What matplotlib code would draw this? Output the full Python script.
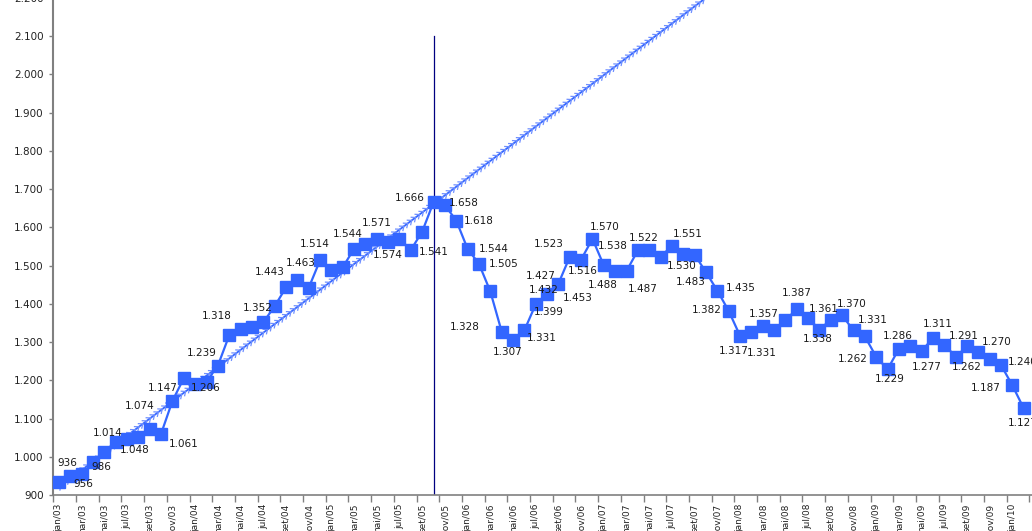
import numpy as np
import matplotlib
matplotlib.use('Agg')
import matplotlib.pyplot as plt
import matplotlib.patheffects as pe

# monthly series, jan/03 .. fev/10
month_names = ['jan', 'fev', 'mar', 'abr', 'mai', 'jun',
               'jul', 'ago', 'set', 'out', 'nov', 'dez']
years = [3, 4, 5, 6, 7, 8, 9, 10]

values = [936, 950, 956, 986, 1014, 1040, 1048, 1052, 1074, 1061, 1147, 1206,   # 2003
          1191, 1197, 1239, 1318, 1335, 1340, 1352, 1394, 1443, 1463, 1442, 1514,  # 2004
          1488, 1496, 1544, 1556, 1571, 1563, 1570, 1541, 1589, 1666, 1658, 1618,  # 2005
          1544, 1505, 1433, 1328, 1307, 1331, 1399, 1427, 1453, 1523, 1516, 1570,  # 2006
          1501, 1486, 1486, 1540, 1540, 1524, 1551, 1530, 1529, 1483, 1435, 1382,  # 2007
          1317, 1326, 1342, 1331, 1357, 1387, 1363, 1333, 1359, 1370, 1331, 1315,  # 2008
          1262, 1229, 1283, 1289, 1277, 1311, 1294, 1262, 1289, 1274, 1257, 1240,  # 2009
          1187, 1127]                                                              # 2010

# linear trend of the 2003-2005 rise
trend_months = [0, 57]
trend_values = [921, 2200]

marker_month = 33  # out/05

# data labels: (month index, text)
labels = [(0, '936'), (2, '956'), (3, '986'), (4, '1.014'), (6, '1.048'),
          (8, '1.074'), (9, '1.061'), (10, '1.147'), (11, '1.206'), (14, '1.239'),
          (15, '1.318'), (18, '1.352'), (20, '1.443'), (21, '1.463'), (23, '1.514'),
          (26, '1.544'), (28, '1.571'), (29, '1.574'), (31, '1.541'), (33, '1.666'),
          (34, '1.658'), (35, '1.618'), (36, '1.544'), (37, '1.505'), (39, '1.328'),
          (40, '1.307'), (41, '1.331'), (42, '1.399'), (43, '1.427'), (43, '1.432'),
          (44, '1.453'), (45, '1.523'), (46, '1.516'), (47, '1.570'), (48, '1.538'),
          (48, '1.488'), (50, '1.487'), (51, '1.522'), (54, '1.551'), (55, '1.530'),
          (57, '1.483'), (58, '1.435'), (59, '1.382'), (60, '1.317'), (61, '1.331'),
          (62, '1.357'), (65, '1.387'), (68, '1.361'), (67, '1.338'), (69, '1.370'),
          (70, '1.331'), (72, '1.262'), (73, '1.229'), (74, '1.286'), (76, '1.277'),
          (77, '1.311'), (80, '1.291'), (79, '1.262'), (82, '1.270'), (83, '1.240'),
          (84, '1.187'), (85, '1.127')]

# where each label sits relative to its point (pixels, right / down)
label_offsets = [(8, -19), (2, 10), (8, 5), (3, -19), (8, 11),
                 (-10, -23), (23, 10), (-10, -13), (22, 10), (-16, -13),
                 (-12, -19), (-6, -14), (-16, -15), (3, -17), (-5, -16),
                 (-6, -15), (0, -16), (0, 13), (23, 2), (-24, -4),
                 (19, -2), (23, 0), (26, 0), (25, 0), (-37, -5),
                 (-5, 12), (17, 8), (13, 8), (-6, -18), (-3, -4),
                 (19, 14), (-21, -13), (2, 11), (12, -12), (9, -19),
                 (-1, 20), (16, 18), (6, -12), (16, -12), (-2, 12),
                 (-15, 10), (23, -3), (-22, -1), (-6, 15), (10, 21),
                 (1, -12), (0, -16), (-7, -11), (-2, 9), (10, -11),
                 (19, -10), (-23, 2), (2, 10), (-1, -13), (5, 16),
                 (5, -14), (-3, -10), (11, 10), (7, -17), (22, -3),
                 (-27, 3), (-1, 15)]

blue = '#3366ff'
W, H = 1032, 531

fig = plt.figure(figsize=(W / 100, H / 100), dpi=100)
ax = fig.add_axes([53.3 / W, 35.7 / H, 987.5 / W, 497.5 / H])

x = np.arange(len(values))

# trend line, drawn with a chevron texture
ax.plot(trend_months, trend_values, color=blue, lw=1.3, zorder=2,
        path_effects=[pe.Stroke(linewidth=1.3, foreground=blue),
                      pe.TickedStroke(spacing=3.5, angle=-140, length=0.9,
                                      linewidth=0.9, foreground='#6f8fff'),
                      pe.TickedStroke(spacing=3.5, angle=140, length=0.9,
                                      linewidth=0.9, foreground='#6f8fff')])

ax.plot([marker_month, marker_month], [900, 2100], color='#000080', lw=0.9, zorder=2)

ax.plot(x, values, color=blue, lw=1.6, marker='s', ms=8, mec=blue,
        zorder=3, clip_on=False)

for (i, txt), (dx, dy) in zip(labels, label_offsets):
    ax.annotate(txt, (i, values[i]), xytext=(dx, -dy), textcoords='offset pixels',
                ha='center', va='center', fontsize=7.5, color='#1a1a1a',
                annotation_clip=False, zorder=4)

ax.set_xlim(-0.5, 86.5)
ax.set_ylim(900, 2200)

yt = np.arange(900, 2201, 100)
ax.set_yticks(yt, [f'{v:,}'.replace(',', '.') for v in yt])
ax.tick_params(axis='y', length=3, width=1, color='#808080', labelsize=7.5,
               labelcolor='#222222', pad=4)

tick_labels = [f'{month_names[i % 12]}/{years[i // 12]:02d}' for i in range(0, len(values), 2)]
ax.set_xticks(np.arange(-0.5, 86.5, 2), [])
ax.set_xticks(np.arange(0, len(values), 2), tick_labels, minor=True, rotation=90)
ax.tick_params(axis='x', which='major', length=5, width=1, color='#808080')
ax.tick_params(axis='x', which='minor', length=0, labelsize=6.5, labelcolor='#222222', pad=6)
for t in ax.get_xticklabels(minor=True):
    t.set_verticalalignment('top')

for s in ['top', 'right']:
    ax.spines[s].set_visible(False)
ax.spines['left'].set_color('#808080')
ax.spines['left'].set_linewidth(1.5)
ax.spines['bottom'].set_color('#808080')
ax.spines['bottom'].set_linewidth(1.2)

fig.savefig('out.png', dpi=100)
